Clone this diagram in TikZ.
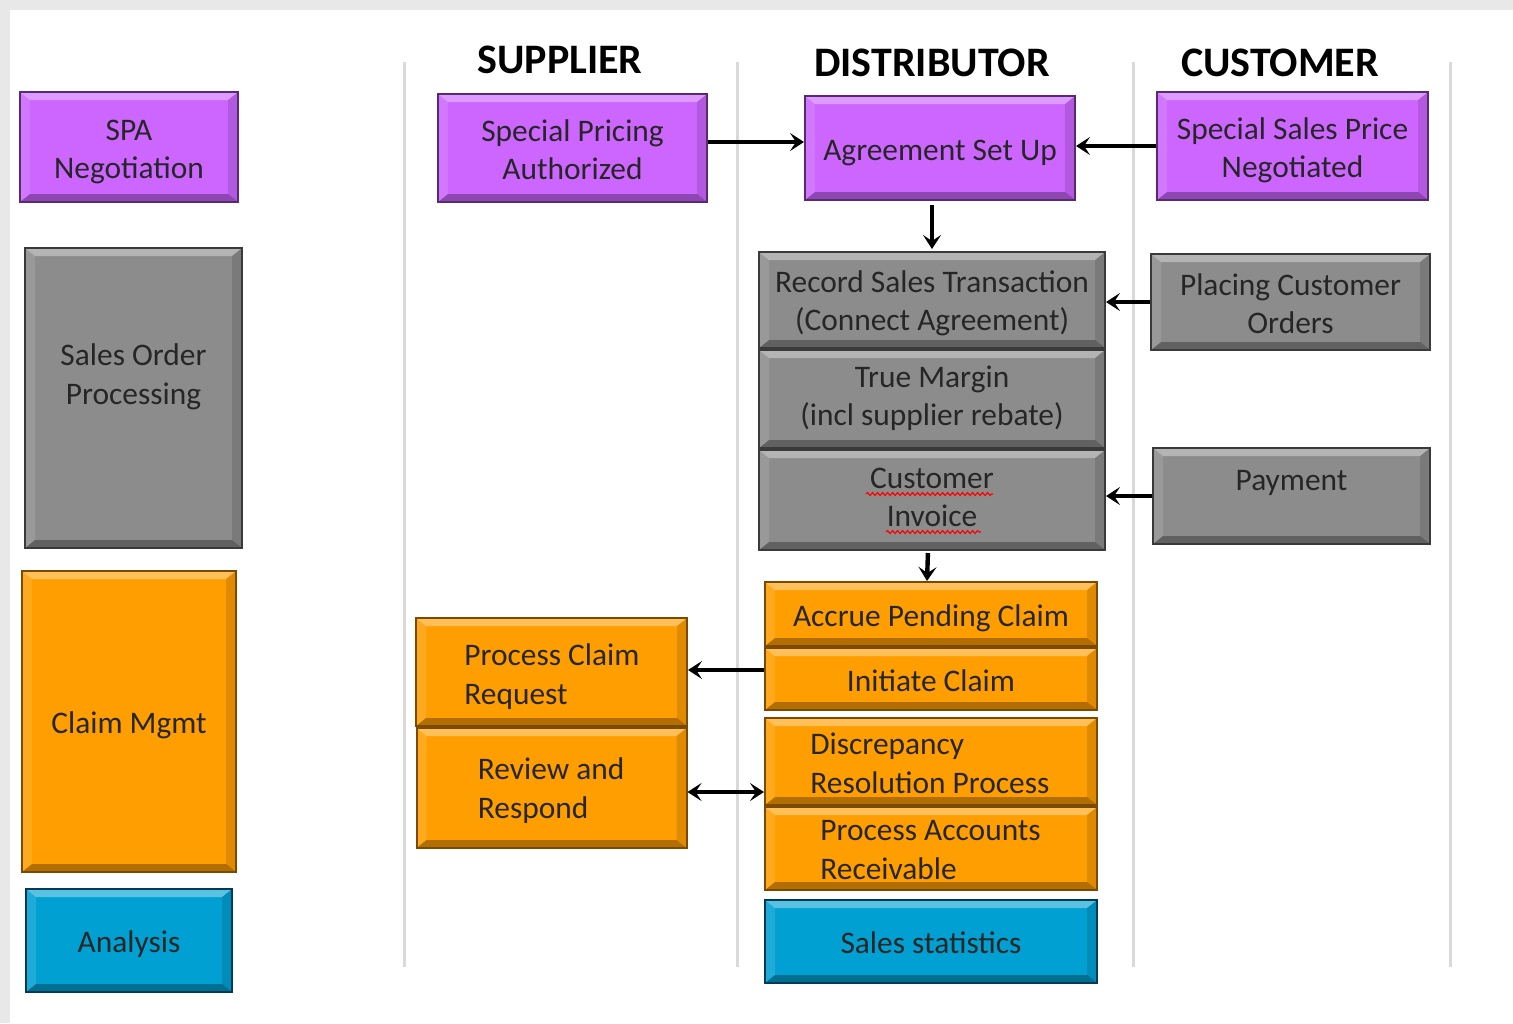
\documentclass[tikz,border=0pt]{standalone}
\usepackage{fontspec}
\setmainfont{Carlito}
\usetikzlibrary{positioning,arrows.meta,decorations.pathmorphing}

\definecolor{bggray}{HTML}{E8E8E8}
\definecolor{lanegray}{HTML}{D9D9D9}
\definecolor{spapurple}{HTML}{CC66FF}
\definecolor{spapurpledark}{HTML}{5A2A70}
\definecolor{ordergray}{HTML}{8C8C8C}
\definecolor{ordergraydark}{HTML}{3A3A3A}
\definecolor{claimorange}{HTML}{FF9E00}
\definecolor{claimorangedark}{HTML}{7A4A00}
\definecolor{statblue}{HTML}{00A0D2}
\definecolor{statbluedark}{HTML}{003A55}

\newcommand\upstrut[1][15pt]{\rule{0pt}{#1}}

\begin{document}
\begin{tikzpicture}[x=0.5pt,y=-0.5pt,
		bevel/.style={path picture={
			\fill[white,opacity=.35] (path picture bounding box.north west) -- (path picture bounding box.north east)
				-- ([shift={(-5pt,-4pt)}]path picture bounding box.north east) -- ([shift={(5pt,-4pt)}]path picture bounding box.north west) -- cycle;
			\fill[black,opacity=.3] (path picture bounding box.south west) -- (path picture bounding box.south east)
				-- ([shift={(-5pt,4pt)}]path picture bounding box.south east) -- ([shift={(5pt,4pt)}]path picture bounding box.south west) -- cycle;
			\fill[black,opacity=.12] (path picture bounding box.north east) -- ([shift={(-5pt,-4pt)}]path picture bounding box.north east)
				-- ([shift={(-5pt,4pt)}]path picture bounding box.south east) -- (path picture bounding box.south east) -- cycle;
			\fill[white,opacity=.12] (path picture bounding box.north west) -- ([shift={(5pt,-4pt)}]path picture bounding box.north west)
				-- ([shift={(5pt,4pt)}]path picture bounding box.south west) -- (path picture bounding box.south west) -- cycle;
		}},
		box/.style={draw, line width=1pt, inner sep=0pt, align=center, text=black!85,
			font=\fontsize{15.7}{19}\selectfont, bevel,
			execute at begin node={\rule{0pt}{15pt}}, execute at end node={\rule[-3pt]{0pt}{3pt}}},
		purplebox/.style={box, fill=spapurple, draw=spapurpledark},
		graybox/.style={box, fill=ordergray, draw=ordergraydark},
		orangebox/.style={box, fill=claimorange, draw=claimorangedark},
		bluebox/.style={box, fill=statblue, draw=statbluedark},
		boxlabel/.style={inner sep=0pt, text=black!85, font=\fontsize{15.7}{19.5}\selectfont},
		header/.style={font=\fontsize{21}{25}\selectfont\bfseries},
		lane/.style={line width=1.5pt, draw=lanegray},
		flow/.style={line width=2.2pt, -{Stealth[length=7pt,width=9pt,inset=3pt]}},
		spell/.style={draw=red, line width=0.6pt, decorate, decoration={snake, amplitude=0.7pt, segment length=2.5pt}}]

	% frame
	\useasboundingbox (0,0) rectangle (1513,1023);
	\fill[bggray] (0,0) rectangle (1513,1023);
	\fill[white] (10,10) rectangle (1513,1023);

	% swim lanes
	\foreach \lx in {404,737,1133,1450}
		\draw[lane] (\lx,62) -- (\lx,967);
	\node[header] (supplier) at (560,60) {SUPPLIER};
	\node[header] (distributor) at (932,63) {DISTRIBUTOR};
	\node[header] (customer) at (1280,63) {CUSTOMER};

	% phases
	\node[purplebox, minimum width=109pt, minimum height=55pt] (spa) at (129,147) {\upstrut SPA\\Negotiation};
	\node[graybox, minimum width=108.5pt, minimum height=150pt,
		label={[boxlabel, align=center, yshift=10.5pt]center:{Sales Order\\Processing}}] (sop) at (133.5,398) {};
	\node[orangebox, minimum width=107pt, minimum height=150.5pt] (claimmgmt) at (129,721.5) {Claim Mgmt};
	\node[bluebox, minimum width=103pt, minimum height=51.5pt] (analysis) at (129,940.5) {Analysis};

	% SPA negotiation
	\node[purplebox, minimum width=134.5pt, minimum height=54pt] (spauth) at (572.5,148) {\upstrut Special Pricing\\Authorized};
	\node[purplebox, minimum width=135pt, minimum height=52pt] (agree) at (940,148) {Agreement Set Up};
	\node[purplebox, minimum width=135.5pt, minimum height=54pt] (ssp) at (1292.5,146) {\upstrut Special Sales Price\\Negotiated};

	% sales order processing
	\node[graybox, minimum width=173pt, minimum height=48pt] (record) at (932,300) {\upstrut[14pt]Record Sales Transaction\\(Connect Agreement)};
	\node[graybox, minimum width=173pt, minimum height=49pt, below=0pt of record] (margin) {True Margin\\(incl supplier rebate)};
	\node[graybox, minimum width=173pt, minimum height=50pt, below=0pt of margin] (invoice) {Customer\\Invoice};
	\node[graybox, minimum width=139.5pt, minimum height=48pt] (placing) at (1290.5,302) {\upstrut[15.5pt]Placing Customer\\Orders};
	\node[graybox, minimum width=138.5pt, minimum height=48pt,
		label={[boxlabel, yshift=6.5pt]center:Payment}] (payment) at (1291.5,496) {};

	% claim management
	\node[orangebox, minimum width=166pt, minimum height=32pt] (accrue) at (931,614) {Accrue Pending Claim};
	\node[orangebox, minimum width=166pt, minimum height=31pt, below=0pt of accrue] (initiate) {Initiate Claim};
	\node[orangebox, minimum width=166pt, minimum height=43.5pt,
		label={[boxlabel, align=left, anchor=west, xshift=23pt, yshift=-1pt]west:{Discrepancy\\Resolution Process}}] (discrep) at (931,761.5) {};
	\node[orangebox, minimum width=166pt, minimum height=41.5pt, below=0pt of discrep,
		label={[boxlabel, align=left, anchor=west, xshift=28pt, yshift=-0.75pt]west:{Process Accounts\\Receivable}}] (receivable) {};
	\node[orangebox, minimum width=135.5pt, minimum height=54pt,
		label={[boxlabel, align=left, anchor=west, xshift=24.5pt, yshift=-2.5pt]west:{Process Claim\\Request}}] (claimreq) at (551.5,672) {};
	\node[orangebox, minimum width=135pt, minimum height=60pt, below=0pt of claimreq,
		label={[boxlabel, align=left, anchor=west, xshift=31pt, yshift=-1.5pt]west:{Review and\\Respond}}] (review) {};

	% analysis
	\node[bluebox, minimum width=166pt, minimum height=41.5pt] (stats) at (931,941.5) {Sales statistics};

	% spelling marks
	\draw[spell] (866,494) -- (993,494);
	\draw[spell] (886,532) -- (981,532);

	% flows
	\draw[flow] ([yshift=3pt]spauth.east) -- ([yshift=3pt]agree.west);
	\draw[flow] (ssp.west) -- (ssp.west -| agree.east);
	\draw[flow, shorten <=2pt, shorten >=1pt] (agree.south -| record.north) -- (record.north);
	\draw[flow] (placing.west) -- (placing.west -| record.east);
	\draw[flow] (payment.west) -- (payment.west -| invoice.east);
	\draw[flow, shorten <=1pt] ([xshift=-2pt]invoice.south) -- ([xshift=-2pt]accrue.north);
	\draw[flow] ([yshift=4.5pt]initiate.west) -- ([yshift=4.5pt]initiate.west -| claimreq.east);
	\draw[flow, {Stealth[length=7pt,width=9pt,inset=3pt]}-{Stealth[length=7pt,width=9pt,inset=3pt]}]
		([yshift=-2pt]review.east) -- ([yshift=-2pt]review.east -| discrep.west);
\end{tikzpicture}
\end{document}
